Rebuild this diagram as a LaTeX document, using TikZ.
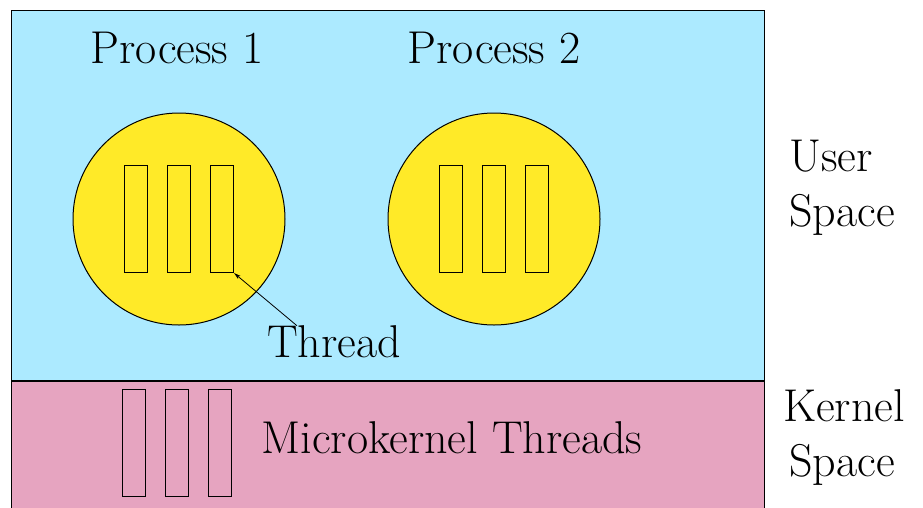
\documentclass[tikz,border=0pt]{standalone}
\usetikzlibrary{positioning, arrows.meta}
\definecolor{userblue}{RGB}{172,234,255}
\definecolor{kernelpink}{RGB}{230,164,192}
\definecolor{procyellow}{RGB}{255,234,40}
\tikzstyle{space} = [rectangle, draw=black, line width=1pt, inner sep=0pt]
\tikzstyle{process} = [circle, minimum size=212pt, inner sep=0pt, draw=black, line width=1pt, fill=procyellow]
\tikzstyle{threadbox} = [rectangle, minimum width=23pt, minimum height=107pt, inner sep=0pt, draw=black, line width=1pt]
\tikzstyle{label} = [font=\fontsize{46}{55}\selectfont, inner sep=0pt, align=left]
\tikzstyle{leader} = [line width=0.8pt, -{Stealth[length=7pt,width=4pt]}]

\begin{document}
\begin{tikzpicture}[x=1pt, y=-1pt, node distance=19pt]
\useasboundingbox (0,0) rectangle (923,507);
\node (user) [space, fill=userblue, minimum width=753pt, minimum height=370pt] at (387.5,195) {};
\node (kernel) [space, fill=kernelpink, minimum width=753pt, minimum height=135pt, anchor=north] at (user.south) {};

\node (p1) [process] at (179,219) {};
\node (p2) [process] at (494,219) {};

\node (t12) [threadbox] at (p1) {};
\node (t11) [threadbox, left=of t12] {};
\node (t13) [threadbox, right=of t12] {};
\node (t22) [threadbox] at (p2) {};
\node (t21) [threadbox, left=of t22] {};
\node (t23) [threadbox, right=of t22] {};
\node (k2) [threadbox] at (177,443) {};
\node (k1) [threadbox, left=of k2] {};
\node (k3) [threadbox, right=of k2] {};

\node (p1lbl) [label] at (177,48) {Process 1};
\node (p2lbl) [label] at (494,48) {Process 2};
\node (thrlbl) [label] at (334,342) {Thread};
\node (klbl) [label] at (452,438) {Microkernel Threads};
\node (ulbl) [label, anchor=west] at (789,188) {User\\Space};
\node (kslbl) [label, anchor=west] at (783,438) {Kernel\\\hspace*{6pt}Space};

\draw [leader] ([xshift=30pt]thrlbl.north west) -- (t13.south east);
\end{tikzpicture}
\end{document}
